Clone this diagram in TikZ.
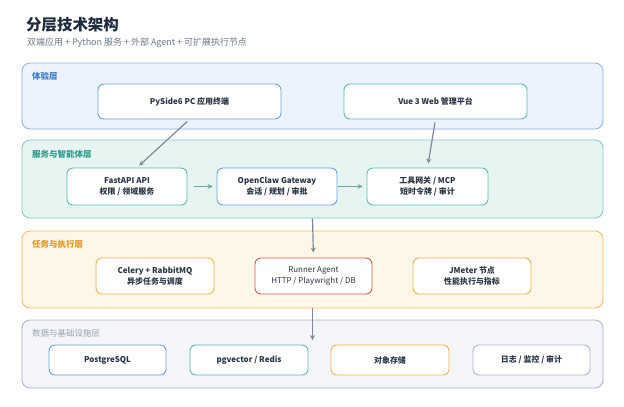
\documentclass[tikz,border=0pt]{standalone}
\usepackage{fontspec}
\setmainfont{Noto Sans CJK SC}
\usepackage{tikz}

\definecolor{titlec}{HTML}{1E2B3C}
\definecolor{subc}{HTML}{6B7785}
\definecolor{txtc}{HTML}{2B3544}
\definecolor{bluebg}{HTML}{EDF3FD}
\definecolor{bluebd}{HTML}{8AB1DE}
\definecolor{bluelb}{HTML}{3A7CC3}
\definecolor{bluend}{HTML}{70A0D8}
\definecolor{tealbg}{HTML}{E7F5F2}
\definecolor{tealbd}{HTML}{84C8BF}
\definecolor{teallb}{HTML}{2E9C8E}
\definecolor{tealnd}{HTML}{62B8AE}
\definecolor{orgbg}{HTML}{FEF6E6}
\definecolor{orgbd}{HTML}{F2BC5E}
\definecolor{orglb}{HTML}{E3961A}
\definecolor{orgnd}{HTML}{F0B550}
\definecolor{rednd}{HTML}{D35757}
\definecolor{graybg}{HTML}{F3F5F8}
\definecolor{graybd}{HTML}{A9B3C3}
\definecolor{graylb}{HTML}{9AA4B3}
\definecolor{graynd}{HTML}{B0B9C8}
\definecolor{arrowc}{HTML}{7D8799}
\definecolor{arrowt}{HTML}{72A5A2}

\tikzstyle{layer} = [rectangle, rounded corners=8bp, line width=0.8bp, minimum width=581bp]
\tikzstyle{layertitle} = [anchor=west, inner sep=0pt, font=\bfseries\fontsize{8.5}{10}\selectfont]
\tikzstyle{card} = [rectangle, rounded corners=6bp, fill=white, line width=0.9bp, text=txtc, align=center, font=\bfseries\fontsize{8}{11.5}\selectfont]
\tikzstyle{arrow} = [line width=1.2bp, draw=arrowc, ->, >=stealth]

\begin{document}
\begin{tikzpicture}[x=1bp, y=-1bp, node distance=150bp]

\useasboundingbox (0,0) rectangle (624,406);
\fill[white] (0,0) rectangle (624,406);

\node (title) [anchor=west, inner sep=0pt, text=titlec, font=\bfseries\fontsize{15.5}{18}\selectfont] at (26,25) {分层技术架构};
\node (subtitle) [anchor=west, inner sep=0pt, text=subc, font=\fontsize{9}{11}\selectfont] at (27,43) {双端应用 + Python 服务 + 外部 Agent + 可扩展执行节点};

% Layers
\node (exp) [layer, fill=bluebg, draw=bluebd, minimum height=66bp] at (312.5,96) {};
\node (svc) [layer, fill=tealbg, draw=tealbd, minimum height=78bp] at (312.5,179) {};
\node (task) [layer, fill=orgbg, draw=orgbd, minimum height=77bp] at (312.5,269.5) {};
\node (data) [layer, fill=graybg, draw=graybd, minimum height=68bp] at (312.5,354) {};

\node (explabel) [layertitle, text=bluelb] at (32,76) {体验层};
\node (svclabel) [layertitle, text=teallb] at (32,154) {服务与智能体层};
\node (tasklabel) [layertitle, text=orglb] at (32,244) {任务与执行层};
\node (datalabel) [layertitle, text=graylb, font=\fontsize{8.5}{10}\selectfont] at (32,333) {数据与基础设施层};

% Experience layer
\node (pyside) [card, draw=bluend, minimum width=183bp, minimum height=35bp] at (189.5,101.5) {PySide6 PC 应用终端};
\node (vue) [card, draw=tealnd, minimum width=183bp, minimum height=35bp, right of=pyside, xshift=96bp] {Vue 3 Web 管理平台};

% Service layer
\node (fastapi) [card, draw=tealnd, minimum width=120bp, minimum height=37bp] at (127,186.5) {FastAPI API\\权限 / 领域服务};
\node (gateway) [card, draw=bluend, minimum width=120bp, minimum height=37bp, right of=fastapi] {OpenClaw Gateway\\会话 / 规划 / 审批};
\node (tools) [card, draw=tealnd, minimum width=121bp, minimum height=37bp, right of=gateway, xshift=0.5bp] {工具网关 / MCP\\短时令牌 / 审计};

% Task layer
\node (celery) [card, draw=orgnd, minimum width=118bp, minimum height=36bp] at (155,276) {Celery + RabbitMQ\\异步任务与调度};
\node (runner) [card, draw=rednd, font=\fontsize{8}{11.5}\selectfont, minimum width=117bp, minimum height=36bp, right of=celery, xshift=8.5bp] {Runner Agent\\HTTP / Playwright / DB};
\node (jmeter) [card, draw=orgnd, minimum width=118bp, minimum height=36bp, right of=runner, xshift=8.5bp] {JMeter 节点\\性能执行与指标};

% Data layer
\node (pg) [card, draw=bluend, minimum width=117bp, minimum height=30bp] at (107.5,360) {PostgreSQL};
\node (pgv) [card, draw=tealnd, minimum width=118bp, minimum height=30bp, right of=pg, xshift=-8.5bp] {pgvector / Redis};
\node (obj) [card, draw=orgnd, minimum width=118bp, minimum height=30bp, right of=pgv, xshift=-9bp] {对象存储};
\node (log) [card, draw=graynd, minimum width=117bp, minimum height=30bp, right of=obj, xshift=-8.5bp] {日志 / 监控 / 审计};

\coordinate (datain) at (312.5,340);

% Arrows
\draw [arrow, shorten <=3bp, shorten >=3bp] (pyside.south) -- ([xshift=10bp]fastapi.north);
\draw [arrow, shorten <=3bp, shorten >=4bp] (vue.south) -- (tools.north);
\draw [arrow, draw=arrowt, shorten <=7bp, shorten >=4bp] (fastapi) -- (gateway);
\draw [arrow, draw=arrowt, shorten <=1bp, shorten >=4bp] (gateway) -- (tools);
\draw [arrow, shorten >=5bp] (svc.south) -- (runner.north);
\draw [arrow] (task.south) -- (datain);

\end{tikzpicture}
\end{document}
